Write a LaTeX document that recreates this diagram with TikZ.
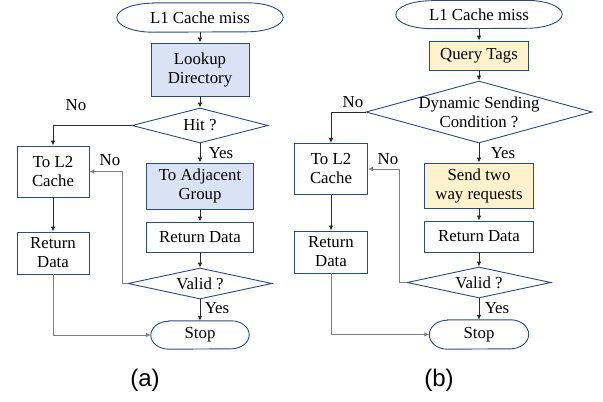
\documentclass[tikz,border=0pt]{standalone}
\usepackage{fontspec}
\setmainfont{Liberation Serif}
\newfontfamily\capfont{Liberation Sans}
\usetikzlibrary{shapes.geometric,arrows.meta}
\definecolor{navy}{HTML}{2F4B7C}
\definecolor{boxblue}{HTML}{DAE3F3}
\definecolor{boxyellow}{HTML}{FFF2CC}
\definecolor{flow}{HTML}{2B2B2B}
\definecolor{loop}{HTML}{7F7F7F}
\tikzset{
  txt/.style={font=\fontsize{16.8}{19}\selectfont},
  base/.style={txt, draw=navy, line width=0.9pt, inner sep=0pt, align=center},
  terminal/.style={txt, rectangle, inner sep=0pt, align=center},
  procbox/.style={base, rectangle, fill=white},
  decision/.style={base, diamond, fill=white},
  flowline/.style={draw=flow, line width=0.8pt, -{Latex[length=5pt,width=4.5pt]}},
  loopline/.style={draw=loop, line width=0.8pt, -{Latex[length=5pt,width=4.5pt]}},
  tag/.style={txt, inner sep=0pt},
  caption/.style={font=\capfont\fontsize{24}{28}\selectfont, inner sep=0pt}
}
% terminator outline round a named node: #1 node, #2 end radius, #3 half height
\newcommand{\termshape}[3]{%
  \draw[navy, line width=0.9pt]
    ([xshift=#2]#1.north west) -- ([xshift=-#2]#1.north east)
    arc[start angle=90, end angle=-90, x radius=#2, y radius=#3]
    -- ([xshift=#2]#1.south west)
    arc[start angle=270, end angle=90, x radius=#2, y radius=#3] -- cycle;}
\begin{document}
\begin{tikzpicture}[x=1pt,y=-1pt]
\useasboundingbox (0,0) rectangle (603,402);

% ---------------- (a) directory lookup ----------------
\node[terminal, minimum width=166, minimum height=29] (a0) at (200,17.5) {L1 Cache miss};
\termshape{a0}{36pt}{14.5pt}
\node[procbox, fill=boxblue, minimum width=98, minimum height=53] (a1) at (200,69.5) {Lookup\\Directory};
\node[decision, minimum width=136, minimum height=35, label={[txt]center:Hit ?}] (a2) at (200,125.5) {};
\node[procbox, minimum width=72, minimum height=51] (aL2) at (53,171.5) {To L2\\Cache};
\node[procbox, fill=boxblue, minimum width=107, minimum height=46] (a3) at (200,186) {To Adjacent\\Group};
\node[procbox, minimum width=107, minimum height=30] (a4) at (200,237) {Return Data};
\node[decision, minimum width=144, minimum height=31, label={[txt]center:Valid ?}] (a5) at (200,283.5) {};
\node[terminal, minimum width=98, minimum height=28] (a6) at (200,335) {Stop};
\termshape{a6}{18pt}{14pt}
\node[procbox, minimum width=72, minimum height=42] (aRD) at (53,253) {Return\\Data};
\coordinate (aBack) at (122,0);

\draw[flowline] (a0) -- (a1);
\draw[flowline] (a1) -- (a2);
\draw[flowline] (a2.west) -| (aL2.north);
\draw[flowline] (a2) -- (a3);
\draw[flowline] (a3) -- (a4);
\draw[flowline] (a4) -- (a5);
\draw[flowline] (a5) -- (a6);
\draw[flowline] (aL2) -- (aRD);
\draw[loopline] (aRD.south) |- (a6.west);
\draw[loopline] (a5.west) -- (a5.west -| aBack) |- (aL2.east);

\node[tag] (aNo1) at (76,105) {No};
\node[tag] (aYes1) at (221,153) {Yes};
\node[tag] (aNo2) at (110,160) {No};
\node[tag] (aYes2) at (217,308) {Yes};
\node[caption] (capa) at (145,380) {(a)};

% ---------------- (b) dynamic sending ----------------
\node[terminal, minimum width=166, minimum height=28] (b0) at (479,14.5) {L1 Cache miss};
\termshape{b0}{36pt}{14pt}
\node[procbox, fill=boxyellow, minimum width=99, minimum height=29] (b1) at (479,55.5) {Query Tags};
\node[decision, minimum width=226, minimum height=62, label={[txt, align=center]center:Dynamic Sending\\Condition ?}] (b2) at (479,112) {};
\node[procbox, minimum width=73, minimum height=51] (bL2) at (331,169) {To L2\\Cache};
\node[procbox, fill=boxyellow, minimum width=109, minimum height=45] (b3) at (479,185.5) {Send two\\way requests};
\node[procbox, minimum width=109, minimum height=31] (b4) at (479,236.5) {Return Data};
\node[decision, minimum width=144, minimum height=31, label={[txt]center:Valid ?}] (b5) at (479,282.5) {};
\node[terminal, minimum width=99, minimum height=29] (b6) at (479,334.5) {Stop};
\termshape{b6}{18pt}{14.5pt}
\node[procbox, minimum width=73, minimum height=42] (bRD) at (331,252) {Return\\Data};
\coordinate (bBack) at (399,0);

\draw[flowline] (b0) -- (b1);
\draw[flowline] (b1) -- (b2);
\draw[flowline] (b2.west) -| (bL2.north);
\draw[flowline] (b2) -- (b3);
\draw[flowline] (b3) -- (b4);
\draw[flowline] (b4) -- (b5);
\draw[flowline] (b5) -- (b6);
\draw[flowline] (bL2) -- (bRD);
\draw[loopline] (bRD.south) |- (b6.west);
\draw[loopline] (b5.west) -- (b5.west -| bBack) |- (bL2.east);

\node[tag] (bNo1) at (353,102) {No};
\node[tag] (bYes1) at (503,153) {Yes};
\node[tag] (bNo2) at (388,159) {No};
\node[tag] (bYes2) at (497,308) {Yes};
\node[caption] (capb) at (439,380) {(b)};
\end{tikzpicture}
\end{document}
